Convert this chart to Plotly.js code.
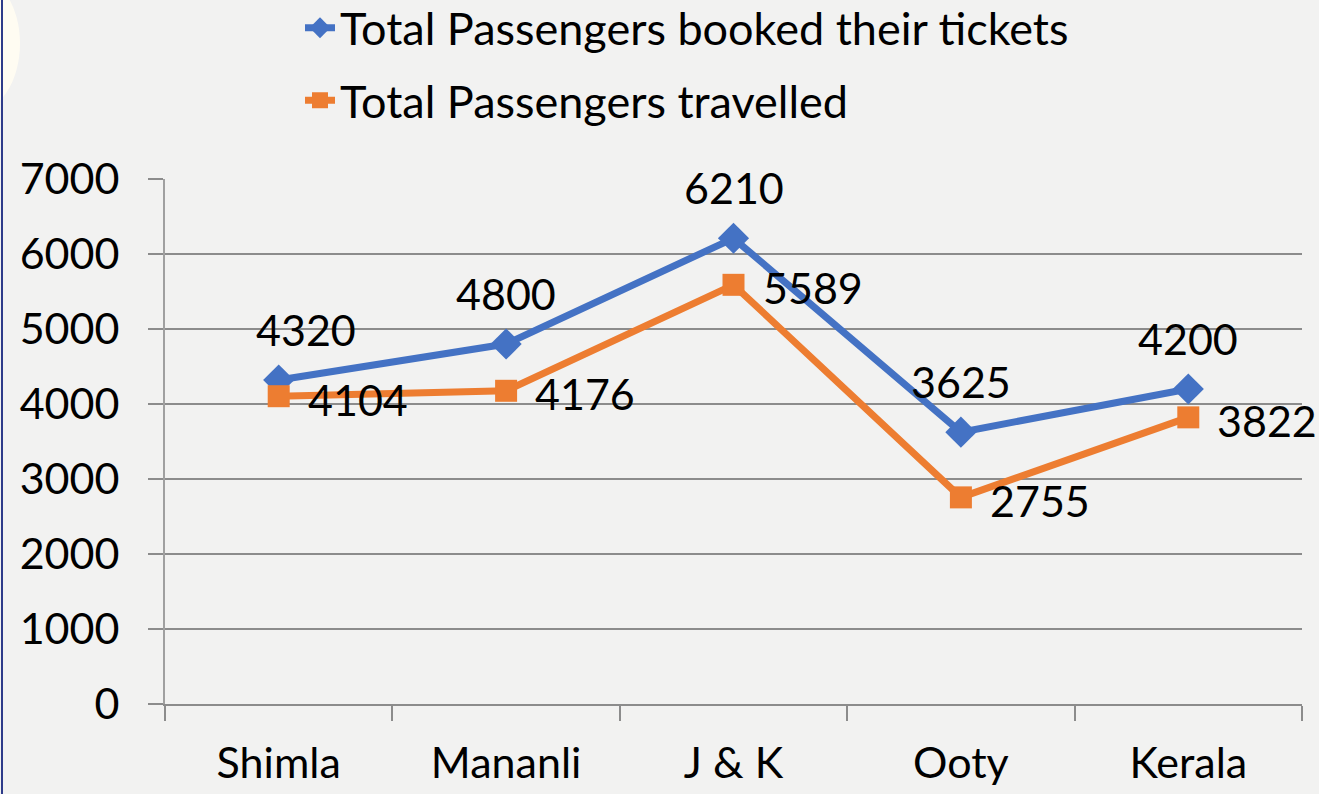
<!DOCTYPE html>
<html>
<head>
<meta charset="utf-8">
<script src="https://cdn.plot.ly/plotly-3.0.1.min.js"></script>
<style>
html,body{margin:0;padding:0;background:#F2F2F1;}
#chart{width:1319px;height:794px;}
</style>
</head>
<body>
<div id="chart"></div>
<script>
const categories = ["Shimla", "Mananli", "J & K", "Ooty", "Kerala"];
const booked = [4320, 4800, 6210, 3625, 4200];
const travelled = [4104, 4176, 5589, 2755, 3822];
const seriesNames = ["Total Passengers booked their tickets", "Total Passengers travelled"];
const yTicks = [0, 1000, 2000, 3000, 4000, 5000, 6000, 7000];

const FONT = "Lato, 'Open Sans', sans-serif";
const FS = 43;
const W = 1319, H = 794;
const L = 165, R = 17, T = 179, B = 90;
const pw = W - L - R, ph = H - T - B;
const px2paperX = p => (p - L) / pw;
const px2paperY = p => (H - B - p) / ph;

const blueXShift = [27, 0, 0, 0, 0];

const traces = [
  {
    x: categories, y: booked, name: seriesNames[0], type: "scatter", mode: "lines+markers",
    line: {color: "#4472C4", width: 7},
    marker: {symbol: "diamond", size: 24, color: "#4472C4"},
    legendgroup: "a", cliponaxis: false
  },
  {
    x: categories, y: travelled, name: seriesNames[1], type: "scatter", mode: "lines+markers",
    line: {color: "#ED7D31", width: 7},
    marker: {symbol: "square", size: 22, color: "#ED7D31"},
    legendgroup: "b", cliponaxis: false
  }
];

const annotations = [];
categories.forEach((c, i) => {
  annotations.push({x: c, y: booked[i], text: String(booked[i]), showarrow: false,
    xanchor: "center", yanchor: "middle", yshift: 51, xshift: blueXShift[i],
    font: {family: FONT, size: FS, color: "#000"}});
  annotations.push({x: c, y: travelled[i], text: String(travelled[i]), showarrow: false,
    xanchor: "left", yanchor: "middle", yshift: -3, xshift: 27,
    font: {family: FONT, size: FS, color: "#000"}});
});

const shapes = [
  {type: "circle", xref: "paper", yref: "paper",
   x0: px2paperX(-70), x1: px2paperX(20), y0: px2paperY(112), y1: px2paperY(-25),
   fillcolor: "#FFFCF2", line: {width: 0}, layer: "below"},
  {type: "line", xref: "paper", yref: "paper",
   x0: px2paperX(2), x1: px2paperX(2), y0: px2paperY(0), y1: px2paperY(794),
   line: {color: "#2E3C8A", width: 2}}
];

const layout = {
  width: W, height: H,
  margin: {l: L, r: R, t: T, b: B, pad: 0, autoexpand: false},
  paper_bgcolor: "#F2F2F1", plot_bgcolor: "#F2F2F1",
  font: {family: FONT, size: FS, color: "#000"},
  showlegend: true,
  legend: {
    xref: "paper", yref: "paper",
    x: px2paperX(300), y: px2paperY(-8), xanchor: "left", yanchor: "top",
    orientation: "v", bgcolor: "rgba(0,0,0,0)",
    font: {family: FONT, size: 45, color: "#000"},
    tracegroupgap: 11, itemsizing: "trace", traceorder: "grouped"
  },
  xaxis: {
    type: "category", range: [-0.5, 4.5], fixedrange: true, automargin: false,
    showline: true, linecolor: "#8C8C8C", linewidth: 2,
    ticks: "outside", tickson: "boundaries", ticklen: 15, tickcolor: "#8C8C8C", tickwidth: 2,
    showgrid: false, zeroline: false, tickangle: 0, ticklabelstandoff: 20,
    tickfont: {family: FONT, size: FS, color: "#000"}
  },
  yaxis: {
    range: [0, 7000], tickvals: yTicks, ticktext: yTicks.map(String), fixedrange: true, automargin: false,
    showline: true, linecolor: "#A0A0A0", linewidth: 2,
    ticks: "outside", ticklen: 15, tickcolor: "#8C8C8C", tickwidth: 2,
    showgrid: true, gridcolor: "#8C8C8C", gridwidth: 2, zeroline: false, ticklabelstandoff: 20,
    tickfont: {family: FONT, size: FS, color: "#000"}
  },
  annotations: annotations,
  shapes: shapes
};

Plotly.newPlot("chart", traces, layout, {displayModeBar: false, staticPlot: true});
</script>
</body>
</html>
